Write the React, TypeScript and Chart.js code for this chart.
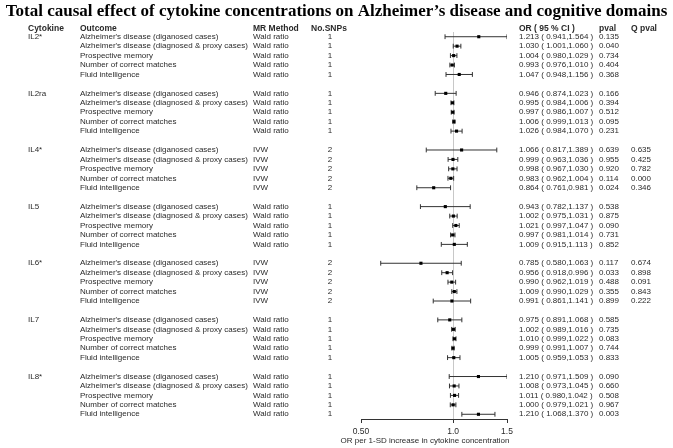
import { useEffect, useRef } from "react";
import { Chart, registerables } from "chart.js";

Chart.register(...registerables);

const TITLE = "Total causal effect of cytokine concentrations on Alzheimer’s disease and cognitive domains";
const HEADERS = ["Cytokine", "Outcome", "MR Method", "No.SNPs", "OR ( 95 % CI )", "pval", "Q pval"];
const CYTOKINES = ["IL2*", "IL2ra", "IL4*", "IL5", "IL6*", "IL7", "IL8*"];
const METHODS = ["Wald ratio", "Wald ratio", "IVW", "Wald ratio", "IVW", "Wald ratio", "Wald ratio"];
const SNPS = [1, 1, 2, 1, 2, 1, 1];
const OUTCOMES = [
  "Alzheimer's disease (diganosed cases)",
  "Alzheimer's disease (diagnosed & proxy cases)",
  "Prospective memory",
  "Number of correct matches",
  "Fluid intelligence",
];

const OR_IL2 = [1.213, 1.03, 1.004, 0.993, 1.047];
const LO_IL2 = [0.941, 1.001, 0.98, 0.976, 0.948];
const HI_IL2 = [1.564, 1.06, 1.029, 1.01, 1.156];
const P_IL2 = [0.135, 0.04, 0.734, 0.404, 0.368];

const OR_IL2RA = [0.946, 0.995, 0.997, 1.006, 1.026];
const LO_IL2RA = [0.874, 0.984, 0.986, 0.999, 0.984];
const HI_IL2RA = [1.023, 1.006, 1.007, 1.013, 1.07];
const P_IL2RA = [0.166, 0.394, 0.512, 0.095, 0.231];

const OR_IL4 = [1.066, 0.999, 0.998, 0.983, 0.864];
const LO_IL4 = [0.817, 0.963, 0.967, 0.962, 0.761];
const HI_IL4 = [1.389, 1.036, 1.03, 1.004, 0.981];
const P_IL4 = [0.639, 0.955, 0.92, 0.114, 0.024];
const Q_IL4 = [0.635, 0.425, 0.782, 0.0, 0.346];

const OR_IL5 = [0.943, 1.002, 1.021, 0.997, 1.009];
const LO_IL5 = [0.782, 0.975, 0.997, 0.981, 0.915];
const HI_IL5 = [1.137, 1.031, 1.047, 1.014, 1.113];
const P_IL5 = [0.538, 0.875, 0.09, 0.731, 0.852];

const OR_IL6 = [0.785, 0.956, 0.99, 1.009, 0.991];
const LO_IL6 = [0.58, 0.918, 0.962, 0.99, 0.861];
const HI_IL6 = [1.063, 0.996, 1.019, 1.029, 1.141];
const P_IL6 = [0.117, 0.033, 0.488, 0.355, 0.899];
const Q_IL6 = [0.674, 0.898, 0.091, 0.843, 0.222];

const OR_IL7 = [0.975, 1.002, 1.01, 0.999, 1.005];
const LO_IL7 = [0.891, 0.989, 0.999, 0.991, 0.959];
const HI_IL7 = [1.068, 1.016, 1.022, 1.007, 1.053];
const P_IL7 = [0.585, 0.735, 0.083, 0.744, 0.833];

const OR_IL8 = [1.21, 1.008, 1.011, 1.0, 1.21];
const LO_IL8 = [0.971, 0.973, 0.98, 0.979, 1.068];
const HI_IL8 = [1.509, 1.045, 1.042, 1.021, 1.37];
const P_IL8 = [0.09, 0.66, 0.508, 0.967, 0.003];

const OR_VALUES = [OR_IL2, OR_IL2RA, OR_IL4, OR_IL5, OR_IL6, OR_IL7, OR_IL8];
const CI_LOWER = [LO_IL2, LO_IL2RA, LO_IL4, LO_IL5, LO_IL6, LO_IL7, LO_IL8];
const CI_UPPER = [HI_IL2, HI_IL2RA, HI_IL4, HI_IL5, HI_IL6, HI_IL7, HI_IL8];
const P_VALUES = [P_IL2, P_IL2RA, P_IL4, P_IL5, P_IL6, P_IL7, P_IL8];
const Q_PVALUES: (number[] | null)[] = [null, null, Q_IL4, null, Q_IL6, null, null];

const X_MIN = 0.5;
const X_MAX = 1.5;
const X_TICKS = [0.5, 1.0, 1.5];
const X_TICK_LABELS = ["0.50", "1.0", "1.5"];
const X_TITLE = "OR per 1-SD increase in cytokine concentration";

const ROWS_PER_GROUP = 6;
const COL_X = [28, 80, 253, 311, 519, 599, 631];
const SNP_X = 330;
const FONT = '"Liberation Sans", Arial, sans-serif';
const TEXT_COLOR = "#2a2a2a";

const f3 = (v: number) => v.toFixed(3);

const tablePlugin = {
  id: "forestTable",
  afterDraw(chart: any) {
    const ctx = chart.ctx as CanvasRenderingContext2D;
    const ys = chart.scales.y;
    const xs = chart.scales.x;
    ctx.save();
    ctx.fillStyle = "#000";
    ctx.textBaseline = "middle";
    ctx.textAlign = "center";
    ctx.font = 'bold 17px "Liberation Serif", "Times New Roman", serif';
    ctx.fillText(TITLE, chart.width / 2, 12);

    ctx.fillStyle = TEXT_COLOR;
    ctx.textAlign = "left";
    ctx.font = `bold 8.5px ${FONT}`;
    const hy = ys.getPixelForValue(-0.85);
    HEADERS.forEach((h, i) => ctx.fillText(h, COL_X[i], hy));

    ctx.font = `8px ${FONT}`;
    CYTOKINES.forEach((cyt, g) => {
      OUTCOMES.forEach((out, k) => {
        const py = ys.getPixelForValue(g * ROWS_PER_GROUP + k);
        ctx.textAlign = "left";
        if (k === 0) ctx.fillText(cyt, COL_X[0], py);
        ctx.fillText(out, COL_X[1], py);
        ctx.fillText(METHODS[g], COL_X[2], py);
        ctx.fillText(
          `${f3(OR_VALUES[g][k])} ( ${f3(CI_LOWER[g][k])},${f3(CI_UPPER[g][k])} )`,
          COL_X[4],
          py
        );
        ctx.fillText(f3(P_VALUES[g][k]), COL_X[5], py);
        const q = Q_PVALUES[g];
        if (q) ctx.fillText(f3(q[k]), COL_X[6], py);
        ctx.textAlign = "center";
        ctx.fillText(String(SNPS[g]), SNP_X, py);
      });
    });

    ctx.textAlign = "center";
    ctx.font = `8px ${FONT}`;
    ctx.fillText(X_TITLE, (xs.left + xs.right) / 2 - 9, 441);
    ctx.restore();
  },
};

export default function App() {
  const ref = useRef<HTMLCanvasElement | null>(null);

  useEffect(() => {
    document.body.style.margin = "0";
    const canvas = ref.current;
    if (!canvas) return;

    const points: { x: number; y: number }[] = [];
    const ciSets: any[] = [];
    CYTOKINES.forEach((_, g) => {
      OUTCOMES.forEach((_, k) => {
        const r = g * ROWS_PER_GROUP + k;
        points.push({ x: OR_VALUES[g][k], y: r });
        ciSets.push({
          data: [
            { x: Math.max(CI_LOWER[g][k], X_MIN), y: r },
            { x: Math.min(CI_UPPER[g][k], X_MAX), y: r },
          ],
          showLine: true,
          borderColor: "#333",
          borderWidth: 1,
          pointStyle: "line",
          rotation: 90,
          pointRadius: 2.4,
          pointBorderWidth: 1,
          pointBorderColor: "#333",
          pointHoverRadius: 0,
        });
      });
    });

    const chart = new Chart(canvas, {
      type: "scatter",
      data: {
        datasets: [
          {
            data: points,
            pointStyle: "rect",
            pointRadius: 2.2,
            backgroundColor: "#000",
            borderColor: "#000",
            pointBorderWidth: 0,
          },
          ...ciSets,
        ],
      },
      options: {
        responsive: false,
        animation: false,
        events: [],
        layout: { padding: { left: 361, right: 166, top: 32, bottom: 0 } },
        plugins: { legend: { display: false }, tooltip: { enabled: false }, title: { display: false } },
        scales: {
          x: {
            type: "logarithmic",
            min: X_MIN,
            max: X_MAX,
            position: "bottom",
            afterBuildTicks: (s: any) => {
              s.ticks = X_TICKS.map((v) => ({ value: v }));
            },
            afterFit: (s: any) => {
              s.height = 29;
            },
            ticks: {
              autoSkip: false,
              maxRotation: 0,
              padding: 4,
              color: TEXT_COLOR,
              font: { family: FONT, size: 8.5 },
              callback: (_v: any, i: number) => X_TICK_LABELS[i],
            },
            grid: {
              drawOnChartArea: true,
              drawTicks: true,
              tickLength: 4,
              tickColor: "#333",
              color: (c: any) => (c.tick && c.tick.value === 1 ? "#c8c8c8" : "rgba(0,0,0,0)"),
            },
            border: { display: true, color: "#333", width: 1 },
          },
          y: {
            type: "linear",
            reverse: true,
            min: -0.5,
            max: 40.5,
            display: false,
          },
        },
      },
      plugins: [tablePlugin],
    });

    return () => chart.destroy();
  }, []);

  return (
    <div style={{ width: 673, height: 448, background: "#fff" }}>
      <canvas ref={ref} width={673} height={448} />
    </div>
  );
}
